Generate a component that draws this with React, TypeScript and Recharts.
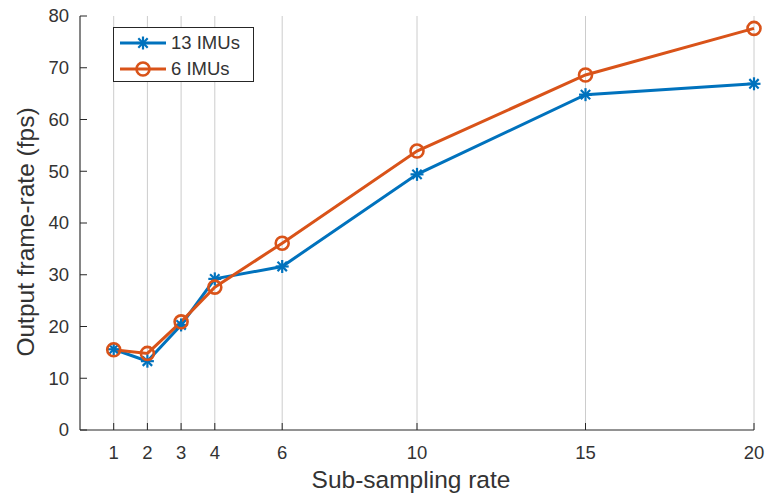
import React from 'react'
import {
  LineChart,
  Line,
  XAxis,
  YAxis,
  CartesianGrid,
  Legend,
} from 'recharts'

// sub-sampling rates and frame-rates
const rates = [1, 2, 3, 4, 6, 10, 15, 20]
const imu13 = [15.6, 13.3, 20.3, 29.2, 31.6, 49.4, 64.8, 66.9]
const imu6 = [15.5, 14.8, 20.9, 27.6, 36.1, 53.9, 68.6, 77.6]
const yTicks = [0, 10, 20, 30, 40, 50, 60, 70, 80]

const BLUE = '#0072BD'
const ORANGE = '#D95319'
const AXIS = '#262626'
const TEXT = '#333'
const FONT = '"Liberation Sans", Arial, sans-serif'

const data = rates.map((r, i) => ({ x: r, a: imu13[i], b: imu6[i] }))

function Star({ cx, cy, color }: any) {
  const s = 6.5
  const d = s * 0.72
  return (
    <g stroke={color} strokeWidth={2.2}>
      <line x1={cx - s} y1={cy} x2={cx + s} y2={cy} />
      <line x1={cx} y1={cy - s} x2={cx} y2={cy + s} />
      <line x1={cx - d} y1={cy - d} x2={cx + d} y2={cy + d} />
      <line x1={cx - d} y1={cy + d} x2={cx + d} y2={cy - d} />
    </g>
  )
}

function Ring({ cx, cy, color }: any) {
  return <circle cx={cx} cy={cy} r={6.5} fill="none" stroke={color} strokeWidth={2.6} />
}

const BottomTick = ({ x, y, payload }: any) => (
  <g>
    <line x1={x} y1={y} x2={x} y2={y - 7} stroke={AXIS} />
    <text x={x} y={y + 29} textAnchor="middle" fontSize={18.5} fontFamily={FONT} fill={TEXT}>
      {payload.value}
    </text>
  </g>
)

const TopTick = ({ x, y }: any) => (
  <line x1={x} y1={y} x2={x} y2={y + 7} stroke={AXIS} />
)

const LeftTick = ({ x, y, payload }: any) => (
  <g>
    <line x1={x} y1={y} x2={x + 7} y2={y} stroke={AXIS} />
    <text x={x - 11} y={y} dy="0.35em" textAnchor="end" fontSize={18.5} fontFamily={FONT} fill={TEXT}>
      {payload.value}
    </text>
  </g>
)

const RightTick = ({ x, y }: any) => (
  <line x1={x} y1={y} x2={x - 7} y2={y} stroke={AXIS} />
)

const LegendBox = () => {
  const items = [
    { name: '13 IMUs', color: BLUE, Marker: Star },
    { name: '6 IMUs', color: ORANGE, Marker: Ring },
  ]
  return (
    <div
      style={{
        width: 139,
        height: 53,
        border: `1px solid ${AXIS}`,
        background: '#fff',
        fontFamily: FONT,
        fontSize: 18.5,
        color: TEXT,
        boxSizing: 'content-box',
      }}
    >
      {items.map((it, i) => (
        <div key={it.name} style={{ display: 'flex', alignItems: 'center', height: 26, marginTop: i === 0 ? 2 : 0 }}>
          <svg width={57} height={20} style={{ display: 'block' }}>
            <line x1={6} y1={10} x2={52} y2={10} stroke={it.color} strokeWidth={3} />
            <it.Marker cx={29} cy={10} color={it.color} />
          </svg>
          <span>{it.name}</span>
        </div>
      ))}
    </div>
  )
}

export default function App() {
  return (
    <div style={{ position: 'absolute', left: 0, top: 0, background: '#fff' }}>
      <LineChart
        width={767}
        height={494}
        data={data}
        margin={{ top: 16, right: 13, bottom: 0, left: 0 }}
      >
        <CartesianGrid xAxisId="b" yAxisId="l" horizontal={false} stroke="#cccccc" />
        <XAxis
          xAxisId="b"
          dataKey="x"
          type="number"
          domain={[0, 20]}
          ticks={rates}
          height={64}
          tickSize={0}
          tickMargin={0}
          tickLine={false}
          tick={BottomTick}
          axisLine={{ stroke: AXIS }}
          interval={0}
          label={{
            content: ({ viewBox }: any) => (
              <text
                x={viewBox.x + viewBox.width / 2 - 6}
                y={viewBox.y + 58}
                textAnchor="middle"
                fontSize={24.5}
                fontFamily={FONT}
                fill={TEXT}
              >
                Sub-sampling rate
              </text>
            ),
          }}
        />
        <XAxis
          xAxisId="t"
          orientation="top"
          dataKey="x"
          type="number"
          domain={[0, 20]}
          ticks={rates}
          height={0}
          tickSize={0}
          tickMargin={0}
          tickLine={false}
          tick={TopTick}
          axisLine={{ stroke: AXIS }}
          interval={0}
        />
        <YAxis
          yAxisId="l"
          domain={[0, 80]}
          ticks={yTicks}
          width={80}
          tickSize={0}
          tickMargin={0}
          tickLine={false}
          tick={LeftTick}
          axisLine={{ stroke: AXIS }}
          interval={0}
          label={{
            content: ({ viewBox }: any) => {
              const cx = 25
              const cy = viewBox.y + viewBox.height / 2 + 9
              return (
                <text
                  x={cx}
                  y={cy}
                  transform={`rotate(-90, ${cx}, ${cy})`}
                  textAnchor="middle"
                  dominantBaseline="central"
                  fontSize={24.5}
                  fontFamily={FONT}
                  fill={TEXT}
                >
                  Output frame-rate (fps)
                </text>
              )
            },
          }}
        />
        <YAxis
          yAxisId="r"
          orientation="right"
          domain={[0, 80]}
          ticks={yTicks}
          width={0}
          tickSize={0}
          tickMargin={0}
          tickLine={false}
          tick={RightTick}
          axisLine={{ stroke: AXIS }}
          interval={0}
        />
        <Legend
          layout="vertical"
          align="center"
          verticalAlign="middle"
          wrapperStyle={{ left: 113, top: 27, width: 141 }}
          content={LegendBox}
        />
        <Line
          xAxisId="b"
          yAxisId="l"
          dataKey="a"
          name="13 IMUs"
          type="linear"
          stroke={BLUE}
          strokeWidth={3}
          isAnimationActive={false}
          dot={(p: any) => <Star key={`a${p.index}`} cx={p.cx} cy={p.cy} color={BLUE} />}
        />
        <Line
          xAxisId="b"
          yAxisId="l"
          dataKey="b"
          name="6 IMUs"
          type="linear"
          stroke={ORANGE}
          strokeWidth={3}
          isAnimationActive={false}
          dot={(p: any) => <Ring key={`b${p.index}`} cx={p.cx} cy={p.cy} color={ORANGE} />}
        />
      </LineChart>
    </div>
  )
}
